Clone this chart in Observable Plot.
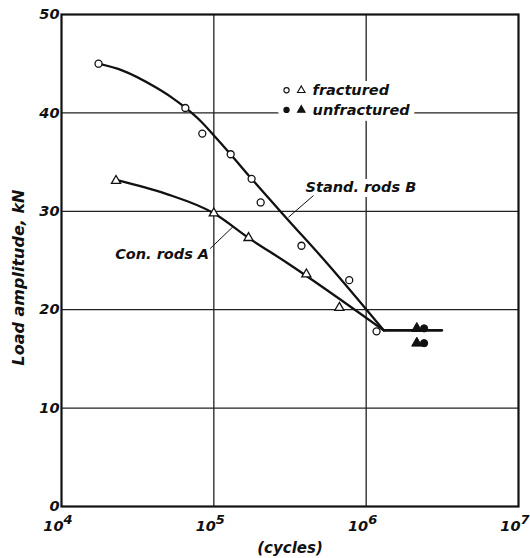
<!DOCTYPE html>
<html>
<head>
<meta charset="utf-8">
<script src="https://cdn.jsdelivr.net/npm/d3@7"></script>
<script src="https://cdn.jsdelivr.net/npm/@observablehq/plot@0.6"></script>
<style>
  body { margin: 0; background: #fff; }
</style>
</head>
<body>
<div id="chart"></div>
<script>
// ---- data (cycles, kN) ----
const bCurveX = [17500, 25200, 41500, 52500, 65300, 81500, 101500, 127000, 177000, 300000, 548000, 1305000];
const bCurveY = [45.0, 44.3, 42.6, 41.6, 40.5, 39.2, 37.6, 35.9, 33.3, 29.3, 24.8, 17.9];
const aCurveX = [22800, 48100, 100000, 169000, 300000, 1305000];
const aCurveY = [33.2, 31.8, 29.8, 27.3, 24.8, 17.9];
const plateauX = [1305000, 3140000];
const plateauY = [17.9, 17.9];

const fracCircX = [17500, 65000, 84000, 129000, 177000, 203000, 376000, 774000, 1170000];
const fracCircY = [45.0, 40.5, 37.9, 35.8, 33.3, 30.9, 26.5, 23.0, 17.8];
const fracTriX = [22800, 100000, 169000, 405000, 667000];
const fracTriY = [33.1, 29.8, 27.3, 23.6, 20.2];
const unfracTriX = [2150000, 2150000];
const unfracTriY = [18.1, 16.6];
const unfracCircX = [2400000, 2400000];
const unfracCircY = [18.1, 16.6];

const yTicks = [0, 10, 20, 30, 40, 50];
const xTicks = [1e4, 1e5, 1e6, 1e7];
const xExponents = ["4", "5", "6", "7"];
const yGrid = [10, 20, 30, 40];
const xGrid = [1e5, 1e6];

const legendLabels = ["fractured", "unfractured"];
const legendY = [42.3, 40.3];
const legendCircleX = 300000;
const legendTriX = 375000;
const legendTextX = 445000;
const legendFilled = [false, true];

const annoLabels = ["Stand. rods B", "Con. rods A"];
const annoX = [400000, 93000];
const annoY = [32.4, 25.6];
const annoAnchor = ["start", "end"];
const leaderX1 = [451000, 94400];
const leaderY1 = [31.6, 26.2];
const leaderX2 = [309000, 133000];
const leaderY2 = [29.4, 28.4];

const yTitle = "Load amplitude, kN";
const xTitle = "(cycles)";

// ---- tables ----
const pts = (xs, ys) => xs.map((x, i) => ({x, y: ys[i]}));
const bCurve = pts(bCurveX, bCurveY);
const aCurve = pts(aCurveX, aCurveY);
const plateau = pts(plateauX, plateauY);
const legend = legendLabels.map((t, i) => ({t, y: legendY[i], filled: legendFilled[i]}));
const anno = annoLabels.map((t, i) => ({t, x: annoX[i], y: annoY[i], a: annoAnchor[i]}));
const leaders = annoLabels.map((t, i) => ({x1: leaderX1[i], y1: leaderY1[i], x2: leaderX2[i], y2: leaderY2[i]}));

const FONT = "DejaVu Sans";
const txt = {fontFamily: FONT, fontStyle: "italic", fontWeight: "bold", fill: "#111"};

const chart = Plot.plot({
  width: 530,
  height: 558,
  marginLeft: 61,
  marginRight: 12,
  marginTop: 14,
  marginBottom: 52,
  x: {type: "log", domain: [1e4, 1e7], axis: null},
  y: {domain: [0, 50], axis: null},
  style: {fontFamily: FONT, background: "#fff"},
  marks: [
    Plot.ruleY(yGrid, {stroke: "#222", strokeWidth: 1.3}),
    Plot.ruleX(xGrid, {stroke: "#222", strokeWidth: 1.3}),
    // legend halo (cuts the grid like the original)
    Plot.dot(legend, {x: legendCircleX, y: "y", r: 8, fill: "white", stroke: "white"}),
    Plot.dot(legend, {x: legendTriX, y: "y", r: 8, fill: "white", stroke: "white"}),
    Plot.text(legend, {x: legendTextX, y: "y", text: "t", textAnchor: "start", fontSize: 14.5,
      stroke: "white", strokeWidth: 12, paintOrder: "stroke", ...txt}),
    Plot.dot(legend, {x: legendCircleX, y: "y", r: 2.6, symbol: "circle", stroke: "#111", strokeWidth: 1.1,
      fill: d => d.filled ? "#111" : "white"}),
    Plot.dot(legend, {x: legendTriX, y: "y", r: 2.8, symbol: "triangle", stroke: "#111", strokeWidth: 1.1,
      fill: d => d.filled ? "#111" : "white"}),
    // annotations
    Plot.text(anno.filter(d => d.a === "start"), {x: "x", y: "y", text: "t", textAnchor: "start", fontSize: 14.5,
      stroke: "white", strokeWidth: 10, paintOrder: "stroke", ...txt}),
    Plot.text(anno.filter(d => d.a === "end"), {x: "x", y: "y", text: "t", textAnchor: "end", fontSize: 14.5,
      stroke: "white", strokeWidth: 10, paintOrder: "stroke", ...txt}),
    Plot.link(leaders, {x1: "x1", y1: "y1", x2: "x2", y2: "y2", stroke: "#111", strokeWidth: 1}),
    // frame
    Plot.frame({stroke: "#111", strokeWidth: 2.2}),
    // curves
    Plot.line(bCurve, {x: "x", y: "y", curve: "monotone-x", stroke: "#111", strokeWidth: 2.3}),
    Plot.line(aCurve, {x: "x", y: "y", curve: "monotone-x", stroke: "#111", strokeWidth: 2.3}),
    Plot.line(plateau, {x: "x", y: "y", stroke: "#111", strokeWidth: 2.6}),
    // data points
    Plot.dot(pts(fracCircX, fracCircY), {x: "x", y: "y", r: 3.5, symbol: "circle", fill: "white", stroke: "#111", strokeWidth: 1.3}),
    Plot.dot(pts(fracTriX, fracTriY), {x: "x", y: "y", r: 3.4, symbol: "triangle", fill: "white", stroke: "#111", strokeWidth: 1.3}),
    Plot.dot(pts(unfracTriX, unfracTriY), {x: "x", y: "y", r: 3.8, symbol: "triangle", fill: "#111", stroke: "#111", strokeWidth: 1}),
    Plot.dot(pts(unfracCircX, unfracCircY), {x: "x", y: "y", r: 3.6, symbol: "circle", fill: "#111", stroke: "#111", strokeWidth: 1}),
    // y tick labels
    Plot.text(yTicks, {x: 1e4, y: d => d, text: d => String(d), textAnchor: "end", dx: -2, fontSize: 14.5, ...txt}),
    // x tick labels 10^n
    Plot.text(xTicks, {x: d => d, y: 0, text: () => "10", textAnchor: "end", dx: 2, dy: 20, fontSize: 14.5, ...txt}),
    Plot.text(xTicks, {x: d => d, y: 0, text: (d, i) => xExponents[i], textAnchor: "start", dx: 2, dy: 13, fontSize: 13, ...txt}),
    // axis titles
    Plot.text([yTitle], {frameAnchor: "left", text: d => d, rotate: -90, textAnchor: "middle", lineAnchor: "middle",
      dx: -43, dy: 17, fontSize: 16, ...txt}),
    Plot.text([xTitle], {frameAnchor: "bottom", text: d => d, textAnchor: "middle", lineAnchor: "middle",
      dy: 42, fontSize: 15, ...txt})
  ]
});
document.getElementById("chart").appendChild(chart);
</script>
</body>
</html>
